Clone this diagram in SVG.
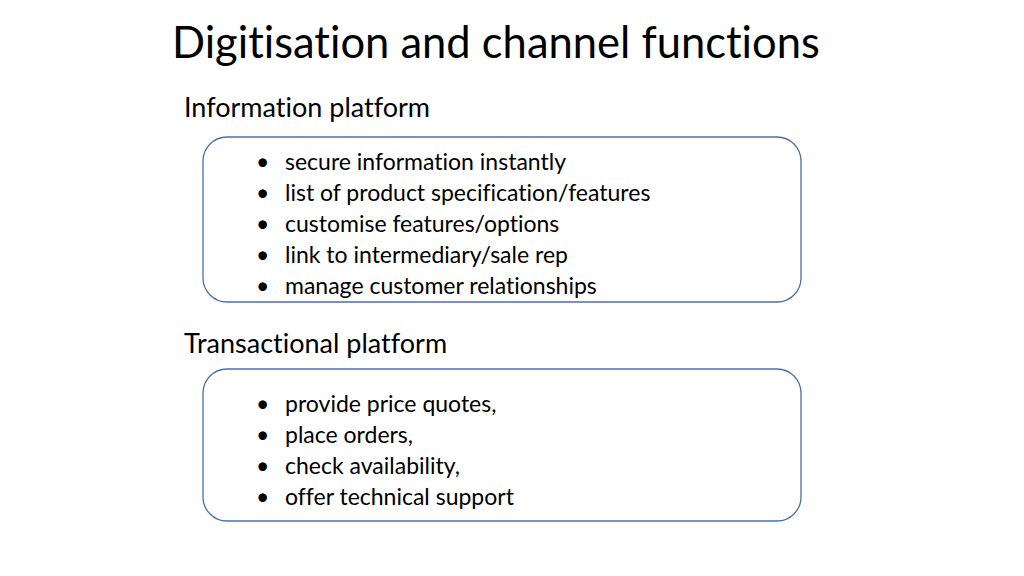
<svg xmlns="http://www.w3.org/2000/svg" width="1024" height="576" viewBox="0 0 1024 576">
<style>
text{font-family:Lato,"Open Sans",sans-serif;fill:#000;font-variant-ligatures:none}
.t{font-size:43.5px}
.h{font-size:27px}
.b{font-size:23px}
.box{fill:#fff;stroke:#4a6fa8;stroke-width:1.3}
</style>
<rect width="1024" height="576" fill="#fff"/>
<text class="t" x="172" y="58">Digitisation and channel functions</text>
<text class="h" x="184" y="117">Information platform</text>
<g id="info">
<rect class="box" x="203" y="137" width="598" height="165" rx="24"/>
<text class="b" x="256" y="170">•</text><text class="b" x="285" y="170">secure information instantly</text>
<text class="b" x="256" y="201">•</text><text class="b" x="285" y="201">list of product specification/features</text>
<text class="b" x="256" y="232">•</text><text class="b" x="285" y="232">customise features/options</text>
<text class="b" x="256" y="263">•</text><text class="b" x="285" y="263">link to intermediary/sale rep</text>
<text class="b" x="256" y="294">•</text><text class="b" x="285" y="294">manage customer relationships</text>
</g>
<text class="h" x="184" y="353">Transactional platform</text>
<g id="trans">
<rect class="box" x="203" y="369" width="598" height="152" rx="24"/>
<text class="b" x="256" y="412">•</text><text class="b" x="285" y="412">provide price quotes,</text>
<text class="b" x="256" y="443">•</text><text class="b" x="285" y="443">place orders,</text>
<text class="b" x="256" y="474">•</text><text class="b" x="285" y="474">check availability,</text>
<text class="b" x="256" y="505">•</text><text class="b" x="285" y="505">offer technical support</text>
</g>
<g id="connectors"/>
</svg>
